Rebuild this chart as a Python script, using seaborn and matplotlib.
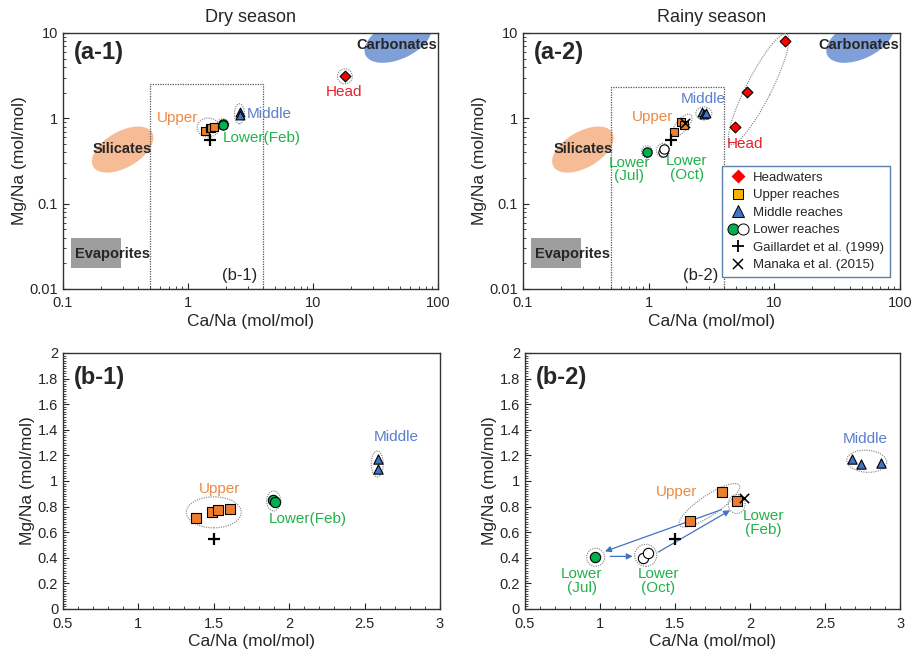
import numpy as np
import pandas as pd
import matplotlib
matplotlib.use("Agg")
import matplotlib.pyplot as plt
import seaborn as sns
from matplotlib.patches import Ellipse, Rectangle
from matplotlib.transforms import IdentityTransform, ScaledTranslation
from matplotlib.ticker import FixedLocator, FixedFormatter, MultipleLocator, LogLocator, NullFormatter
from matplotlib.lines import Line2D
from matplotlib.legend_handler import HandlerTuple

# ---------------- data ----------------
# Dry season
dry_head_x = [18.0]
dry_head_y = [3.1]
dry_upper_x = [1.38, 1.49, 1.53, 1.61]
dry_upper_y = [0.71, 0.76, 0.77, 0.78]
dry_middle_x = [2.59, 2.59]
dry_middle_y = [1.17, 1.09]
dry_lower_x = [1.89, 1.905]
dry_lower_y = [0.852, 0.837]
# Rainy season
rainy_head_x = [4.9, 6.1, 12.1]
rainy_head_y = [0.78, 2.05, 8.1]
rainy_upper_x = [1.60, 1.81, 1.91]
rainy_upper_y = [0.69, 0.915, 0.845]
rainy_middle_x = [2.68, 2.74, 2.87]
rainy_middle_y = [1.17, 1.135, 1.14]
rainy_jul_x = [0.97]
rainy_jul_y = [0.405]
rainy_oct_x = [1.29, 1.32]
rainy_oct_y = [0.40, 0.44]
# Reference values
gaillardet_x = [1.5]
gaillardet_y = [0.55]
manaka_x = [1.96]
manaka_y = [0.87]

log_xticks = [0.1, 1, 10, 100]
log_xlabels = ["0.1", "1", "10", "100"]
log_yticks = [0.01, 0.1, 1, 10]
log_ylabels = ["0.01", "0.1", "1", "10"]
lin_xticks = [0.5, 1, 1.5, 2, 2.5, 3]
lin_xlabels = ["0.5", "1", "1.5", "2", "2.5", "3"]
lin_yticks = [0, 0.2, 0.4, 0.6, 0.8, 1, 1.2, 1.4, 1.6, 1.8, 2]
lin_ylabels = ["0", "0.2", "0.4", "0.6", "0.8", "1", "1.2", "1.4", "1.6", "1.8", "2"]

# ---------------- style ----------------
sns.set_style("ticks")
plt.rcParams["font.family"] = ["Liberation Sans", "DejaVu Sans"]
plt.rcParams["axes.edgecolor"] = "#333333"
plt.rcParams["axes.linewidth"] = 1.0

C_RED = "#ff0000"
C_ORANGE = "#ed7d31"
C_BLUE = "#4472c4"
C_GREEN = "#00b050"
C_TXT_ORANGE = "#ee8a45"
C_TXT_BLUE = "#5b7fcc"
C_TXT_GREEN = "#22b24c"
C_TXT_RED = "#e8202a"

fig = plt.figure(figsize=(9.17, 6.59), dpi=100)
ax1 = fig.add_axes([0.0687, 0.5615, 0.4089, 0.3885])
ax2 = fig.add_axes([0.5703, 0.5615, 0.4111, 0.3885])
ax3 = fig.add_axes([0.0687, 0.0759, 0.4111, 0.3885])
ax4 = fig.add_axes([0.5725, 0.0759, 0.4090, 0.3885])


def ring(ax, cx, cy, w, h, angle=0, dotted=True, **kw):
    tr = IdentityTransform() + ScaledTranslation(cx, cy, ax.transData)
    if dotted:
        e = Ellipse((0, 0), w, h, angle=angle, fill=False, linestyle=(0, (1, 1)),
                    edgecolor="#8a8a8a", linewidth=0.85, transform=tr, zorder=3)
    else:
        e = Ellipse((0, 0), w, h, angle=angle, transform=tr, zorder=1, **kw)
    ax.add_patch(e)


def scat(ax, x, y, marker, color, s, ec="black", lw=0.8, z=5):
    sns.scatterplot(x=x, y=y, ax=ax, marker=marker, color=color, s=s,
                    edgecolor=ec, linewidth=lw, zorder=z, legend=False)


def ref_marks(ax, show_manaka):
    scat(ax, gaillardet_x, gaillardet_y, "+", "black", 70, ec="black", lw=1.6, z=6)
    if show_manaka:
        scat(ax, manaka_x, manaka_y, "x", "black", 45, ec="black", lw=1.1, z=6)


def setup_log(ax, panel, sub, boxtop):
    ax.set_xscale("log")
    ax.set_yscale("log")
    ax.set_xlim(0.1, 100)
    ax.set_ylim(0.01, 10)
    ax.xaxis.set_major_locator(FixedLocator(log_xticks))
    ax.xaxis.set_major_formatter(FixedFormatter(log_xlabels))
    ax.yaxis.set_major_locator(FixedLocator(log_yticks))
    ax.yaxis.set_major_formatter(FixedFormatter(log_ylabels))
    ax.xaxis.set_minor_locator(LogLocator(base=10, subs=np.arange(2, 10)))
    ax.yaxis.set_minor_locator(LogLocator(base=10, subs=np.arange(2, 10)))
    ax.xaxis.set_minor_formatter(NullFormatter())
    ax.yaxis.set_minor_formatter(NullFormatter())
    ax.tick_params(which="both", direction="in", top=False, right=False, labelsize=10.5)
    ax.tick_params(which="major", length=4)
    ax.tick_params(which="minor", length=2.5)
    ax.tick_params(axis="x", pad=5)
    ax.set_xlabel("Ca/Na (mol/mol)", fontsize=12.5, labelpad=3)
    ax.set_ylabel("Mg/Na (mol/mol)", fontsize=12.5, labelpad=2)
    # end-member fields
    ring(ax, 0.30, 0.43, 68, 36, angle=30, dotted=False, facecolor="#f4b183", alpha=0.85, edgecolor="none")
    ring(ax, 48, 8.3, 72, 38, angle=25, dotted=False, facecolor="#7f9fd8", edgecolor="none")
    ax.add_patch(Rectangle((0.115, 0.0175), 0.175, 0.0225, facecolor="#9e9e9e", edgecolor="none", zorder=1))
    ax.text(0.30, 0.44, "Silicates", fontsize=10.5, fontweight="bold", ha="center", va="center", zorder=4)
    ax.text(47, 7.3, "Carbonates", fontsize=10.5, fontweight="bold", ha="center", va="center", zorder=4)
    ax.text(0.25, 0.0255, "Evaporites", fontsize=10.5, fontweight="bold", ha="center", va="center", zorder=4)
    # zoom window
    ax.add_patch(Rectangle((0.5, 0.01), 3.5, boxtop - 0.01, fill=False, linestyle=(0, (1, 1)),
                           edgecolor="#555555", linewidth=0.9, zorder=2))
    ax.text(2.6, 0.0145, sub, fontsize=12, ha="center", va="center")
    ax.text(0.03, 0.925, panel, transform=ax.transAxes, fontsize=17, fontweight="bold",
            ha="left", va="center")


def setup_lin(ax, panel):
    ax.set_xlim(0.5, 3)
    ax.set_ylim(0, 2)
    ax.xaxis.set_major_locator(FixedLocator(lin_xticks))
    ax.xaxis.set_major_formatter(FixedFormatter(lin_xlabels))
    ax.yaxis.set_major_locator(FixedLocator(lin_yticks))
    ax.yaxis.set_major_formatter(FixedFormatter(lin_ylabels))
    ax.xaxis.set_minor_locator(MultipleLocator(0.1))
    ax.yaxis.set_minor_locator(MultipleLocator(0.02))
    ax.tick_params(which="both", direction="in", top=False, right=False, labelsize=10.5)
    ax.tick_params(which="major", length=4)
    ax.tick_params(which="minor", length=2.5)
    ax.tick_params(axis="x", pad=6)
    ax.set_xlabel("Ca/Na (mol/mol)", fontsize=12.5, labelpad=2)
    ax.set_ylabel("Mg/Na (mol/mol)", fontsize=12.5, labelpad=2)
    ax.text(0.03, 0.905, panel, transform=ax.transAxes, fontsize=17, fontweight="bold",
            ha="left", va="center")


# ---------------- (a-1) dry season, log ----------------
setup_log(ax1, "(a-1)", "(b-1)", 2.5)
ax1.set_title("Dry season", fontsize=13, pad=8)
scat(ax1, dry_upper_x, dry_upper_y, "s", C_ORANGE, 40)
scat(ax1, dry_lower_x, dry_lower_y, "o", C_GREEN, 45)
scat(ax1, dry_middle_x, dry_middle_y, "^", C_BLUE, 40)
scat(ax1, dry_head_x, dry_head_y, "D", C_RED, 30)
ref_marks(ax1, False)
ring(ax1, 1.45, 0.78, 22, 19)
ring(ax1, 1.9, 0.85, 12, 11)
ring(ax1, 2.58, 1.13, 10, 20)
ring(ax1, 18, 3.1, 15, 15)
ax1.text(0.83, 1.0, "Upper", color=C_TXT_ORANGE, fontsize=11, ha="center", va="center")
ax1.text(2.95, 1.12, "Middle", color=C_TXT_BLUE, fontsize=11, ha="left", va="center")
ax1.text(3.9, 0.59, "Lower(Feb)", color=C_TXT_GREEN, fontsize=11, ha="center", va="center")
ax1.text(17.7, 2.03, "Head", color=C_TXT_RED, fontsize=11, ha="center", va="center")

# ---------------- (a-2) rainy season, log ----------------
setup_log(ax2, "(a-2)", "(b-2)", 2.3)
ax2.set_title("Rainy season", fontsize=13, pad=8)
scat(ax2, rainy_upper_x, rainy_upper_y, "s", C_ORANGE, 40)
scat(ax2, rainy_jul_x, rainy_jul_y, "o", C_GREEN, 45)
scat(ax2, rainy_oct_x, rainy_oct_y, "o", "white", 45)
scat(ax2, rainy_middle_x, rainy_middle_y, "^", C_BLUE, 40)
scat(ax2, rainy_head_x, rainy_head_y, "D", C_RED, 30)
ref_marks(ax2, True)
ring(ax2, 1.85, 0.83, 27, 12, angle=50)
ring(ax2, 2.75, 1.14, 16, 13)
ring(ax2, 0.97, 0.405, 11, 12)
ring(ax2, 1.30, 0.42, 13, 14)
ring(ax2, 7.5, 2.2, 124, 25, angle=63)
ax2.text(1.08, 1.03, "Upper", color=C_TXT_ORANGE, fontsize=11, ha="center", va="center")
ax2.text(2.7, 1.68, "Middle", color=C_TXT_BLUE, fontsize=11, ha="center", va="center")
ax2.text(5.9, 0.5, "Head", color=C_TXT_RED, fontsize=11, ha="center", va="center")
ax2.text(0.70, 0.25, "Lower\n(Jul)", color=C_TXT_GREEN, fontsize=11, ha="center", va="center", linespacing=0.95)
ax2.text(2.02, 0.26, "Lower\n(Oct)", color=C_TXT_GREEN, fontsize=11, ha="center", va="center", linespacing=0.95)

handles = [
    Line2D([], [], marker="D", color="none", markerfacecolor=C_RED, markeredgecolor="none", markersize=7),
    Line2D([], [], marker="s", color="none", markerfacecolor="#f5b400", markeredgecolor="black", markeredgewidth=0.7, markersize=7),
    Line2D([], [], marker="^", color="none", markerfacecolor=C_BLUE, markeredgecolor="black", markeredgewidth=0.7, markersize=8),
    (Line2D([], [], marker="o", color="none", markerfacecolor=C_GREEN, markeredgecolor="black", markeredgewidth=0.7, markersize=8),
     Line2D([], [], marker="o", color="none", markerfacecolor="white", markeredgecolor="black", markeredgewidth=0.7, markersize=8)),
    Line2D([], [], marker="+", color="none", markeredgecolor="black", markeredgewidth=1.3, markersize=9),
    Line2D([], [], marker="x", color="none", markeredgecolor="black", markeredgewidth=1.1, markersize=7),
]
labels = ["Headwaters", "Upper reaches", "Middle reaches", "Lower reaches",
          "Gaillardet et al. (1999)", "Manaka et al. (2015)"]
leg = ax2.legend(handles, labels, loc="lower right", bbox_to_anchor=(0.99, 0.02), fontsize=9.5,
                 frameon=True, fancybox=False, edgecolor="#5a7fa8", framealpha=1,
                 handlelength=1.6, handletextpad=0.3, labelspacing=0.4, borderpad=0.45,
                 handler_map={tuple: HandlerTuple(ndivide=None, pad=0.0)})
leg.get_frame().set_linewidth(1.0)
leg.set_zorder(10)

# ---------------- (b-1) dry season, linear ----------------
setup_lin(ax3, "(b-1)")
scat(ax3, dry_upper_x, dry_upper_y, "s", C_ORANGE, 60)
scat(ax3, dry_lower_x, dry_lower_y, "o", C_GREEN, 55)
scat(ax3, dry_middle_x, dry_middle_y, "^", C_BLUE, 45)
ref_marks(ax3, False)
ring(ax3, 1.50, 0.755, 55, 31)
ring(ax3, 1.897, 0.844, 14, 20)
ring(ax3, 2.584, 1.133, 12, 26)
ax3.text(1.535, 0.94, "Upper", color=C_TXT_ORANGE, fontsize=11, ha="center", va="center")
ax3.text(2.71, 1.34, "Middle", color=C_TXT_BLUE, fontsize=11, ha="center", va="center")
ax3.text(2.12, 0.70, "Lower(Feb)", color=C_TXT_GREEN, fontsize=11, ha="center", va="center")

# ---------------- (b-2) rainy season, linear ----------------
setup_lin(ax4, "(b-2)")
scat(ax4, rainy_upper_x, rainy_upper_y, "s", C_ORANGE, 60)
scat(ax4, rainy_jul_x, rainy_jul_y, "o", C_GREEN, 55)
scat(ax4, rainy_oct_x, rainy_oct_y, "o", "white", 55)
scat(ax4, rainy_middle_x, rainy_middle_y, "^", C_BLUE, 45)
ref_marks(ax4, True)
ring(ax4, 1.729, 0.81, 72, 20, angle=34)
ring(ax4, 1.911, 0.82, 17, 19)
ring(ax4, 0.971, 0.404, 18, 18)
ring(ax4, 1.305, 0.419, 22, 22)
ring(ax4, 2.778, 1.154, 40, 22, angle=-4)
arrow_kw = dict(arrowstyle="-|>", color=C_BLUE, lw=0.9, mutation_scale=9, shrinkA=0, shrinkB=0)
ax4.annotate("", xy=(1.033, 0.45), xytext=(1.81, 0.776), arrowprops=arrow_kw, zorder=4)
ax4.annotate("", xy=(1.218, 0.411), xytext=(1.067, 0.411), arrowprops=arrow_kw, zorder=4)
ax4.annotate("", xy=(1.867, 0.771), xytext=(1.389, 0.445), arrowprops=arrow_kw, zorder=4)
ax4.text(1.51, 0.91, "Upper", color=C_TXT_ORANGE, fontsize=11, ha="center", va="center")
ax4.text(2.77, 1.33, "Middle", color=C_TXT_BLUE, fontsize=11, ha="center", va="center")
ax4.text(2.09, 0.67, "Lower\n(Feb)", color=C_TXT_GREEN, fontsize=11, ha="center", va="center", linespacing=0.95)
ax4.text(0.88, 0.22, "Lower\n(Jul)", color=C_TXT_GREEN, fontsize=11, ha="center", va="center", linespacing=0.95)
ax4.text(1.39, 0.22, "Lower\n(Oct)", color=C_TXT_GREEN, fontsize=11, ha="center", va="center", linespacing=0.95)

for a in (ax1, ax2, ax3, ax4):
    a.set_autoscale_on(False)

fig.savefig("out.png", dpi=100)
